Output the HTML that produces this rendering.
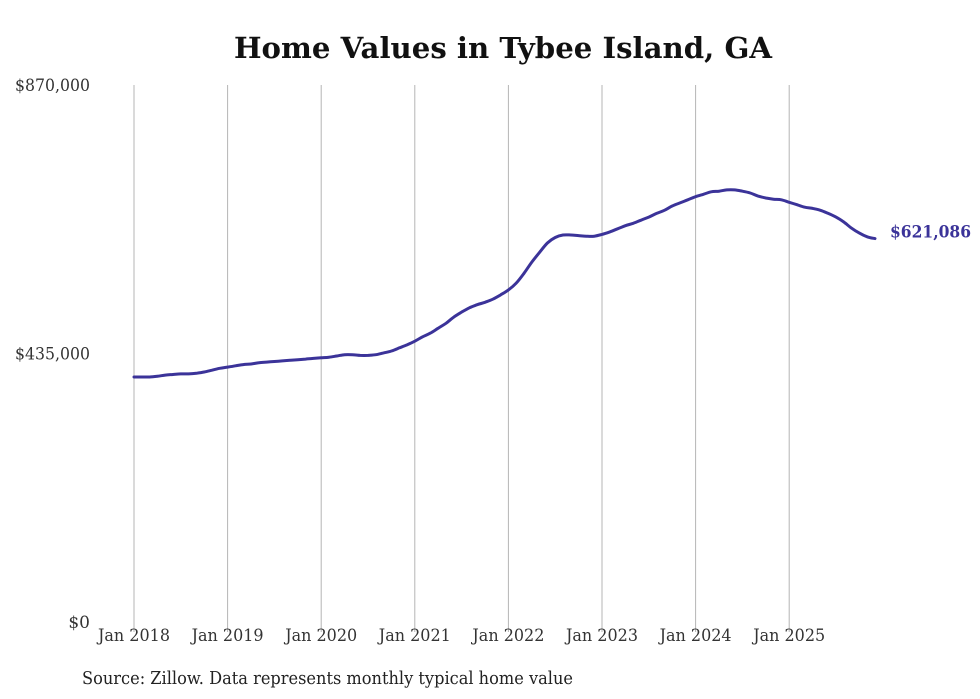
<!DOCTYPE html>
<html><head><meta charset="utf-8"><style>
html,body{margin:0;padding:0;background:#fff;}
svg{display:block;}
text{font-family:"DejaVu Serif","Liberation Serif",serif;}
</style></head><body>
<svg id="chart" width="980" height="699" viewBox="0 0 980 699" xmlns="http://www.w3.org/2000/svg">
<text x="503" y="58" text-anchor="middle" font-size="29" font-weight="bold" fill="#111" textLength="538" lengthAdjust="spacingAndGlyphs">Home Values in Tybee Island, GA</text>
<g id="grid"></g><g id="yaxis"></g><g id="xaxis"></g><g id="series"></g>
<text x="82" y="684" font-size="18" fill="#222" textLength="491" lengthAdjust="spacingAndGlyphs">Source: Zillow. Data represents monthly typical home value</text>
</svg>
<script>
const yTickValues=[0,435000,870000];
const yTickLabels=["$0","$435,000","$870,000"];
const xTickLabels=["Jan 2018","Jan 2019","Jan 2020","Jan 2021","Jan 2022","Jan 2023","Jan 2024","Jan 2025"];
const startYear=2018;
const homeValues=[
397,397,397,398,400,401,402,402,403,405,408,411,
413,415,417,418,420,421,422,423,424,425,426,427,
428,429,431,433,433,432,432,433,436,439,444,449,
455,462,468,476,484,494,502,509,514,518,523,530,
538,549,565,583,599,614,623,627,627,626,625,625,
628,632,637,642,646,651,656,662,667,674,679,684,
689,693,697,698,700,700,698,695,690,687,685,684,
680,676,672,670,667,662,656,648,638,630,624,621.086];
const lastLabel="$621,086";
const NS="http://www.w3.org/2000/svg";
const x0=134,yearW=93.6,yTop=85,yBot=622,yMax=870000;
const xScale=i=>x0+i*yearW/12;
const yScale=v=>yBot-(v/yMax)*(yBot-yTop);
function mk(tag,attrs,parent){const e=document.createElementNS(NS,tag);for(const k in attrs)e.setAttribute(k,attrs[k]);parent.appendChild(e);return e;}
const grid=document.getElementById('grid'),ya=document.getElementById('yaxis'),xa=document.getElementById('xaxis'),se=document.getElementById('series');
xTickLabels.forEach((l,i)=>{
  const x=xScale(i*12);
  const g=mk('line',{x1:x,x2:x,y1:yTop,y2:yBot+10,stroke:'#b5b5b5','stroke-width':1},grid);
  
  
  const t=mk('text',{x:x,y:641,'text-anchor':'middle','font-size':17,fill:'#333',textLength:72,lengthAdjust:'spacingAndGlyphs'},xa);
  t.textContent=l;
  
  
});
yTickValues.forEach((v,i)=>{
  const t=mk('text',{x:90,y:yScale(v)+6,'text-anchor':'end','font-size':17,fill:'#333'},ya);
  if(yTickLabels[i].length>3){t.setAttribute('textLength',75);t.setAttribute('lengthAdjust','spacingAndGlyphs');}
  t.textContent=yTickLabels[i];
  
  
});
const pts=homeValues.map((v,i)=>[xScale(i),yScale(v*1000)]);
let d='M'+pts[0][0].toFixed(1)+','+pts[0][1].toFixed(1);
for(let i=0;i<pts.length-1;i++){
  const p0=pts[Math.max(i-1,0)],p1=pts[i],p2=pts[i+1],p3=pts[Math.min(i+2,pts.length-1)];
  const c1=[p1[0]+(p2[0]-p0[0])/6,p1[1]+(p2[1]-p0[1])/6];
  const c2=[p2[0]-(p3[0]-p1[0])/6,p2[1]-(p3[1]-p1[1])/6];
  d+=' C'+c1[0].toFixed(1)+','+c1[1].toFixed(1)+' '+c2[0].toFixed(1)+','+c2[1].toFixed(1)+' '+p2[0].toFixed(1)+','+p2[1].toFixed(1);
}
const p=mk('path',{d:d,fill:'none',stroke:'#3b3399','stroke-width':3,'stroke-linejoin':'round','stroke-linecap':'round'},se);


const n=homeValues.length-1;
const lt=mk('text',{x:xScale(n)+15,y:yScale(homeValues[n]*1000)-1,'font-size':17,'font-weight':'bold',fill:'#3b3399',textLength:81,lengthAdjust:'spacingAndGlyphs'},se);
lt.textContent=lastLabel;


</script>
</body></html>
